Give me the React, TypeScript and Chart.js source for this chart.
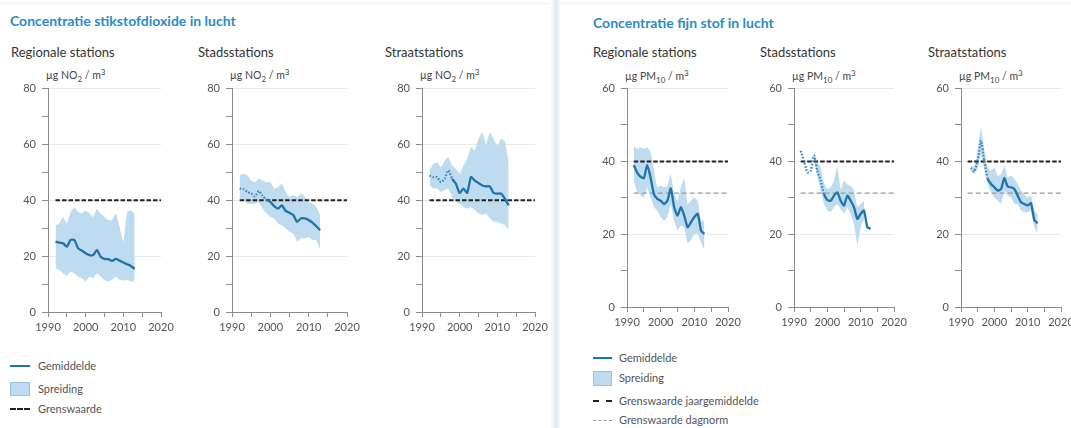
import React, { useEffect, useRef } from 'react';
import { Chart, registerables } from 'chart.js';

Chart.register(...registerables);

// ---------- data ----------
const no2Years = [1992, 1993, 1994, 1995, 1996, 1997, 1998, 1999, 2000, 2001, 2002, 2003, 2004, 2005, 2006, 2007, 2008, 2009, 2010, 2011, 2012, 2013];

const no2RegMean = [25.2, 24.8, 24.6, 23.4, 25.8, 25.8, 22.8, 22.0, 21.0, 20.4, 20.4, 22.2, 19.8, 19.0, 18.9, 18.3, 19.0, 18.4, 17.7, 17.1, 16.5, 15.4];
const no2RegHigh = [31.0, 31.7, 34.0, 31.7, 35.8, 37.3, 35.8, 35.3, 36.4, 35.3, 34.0, 37.0, 35.3, 34.0, 32.9, 32.9, 35.3, 30.5, 25.2, 35.8, 36.4, 35.0];
const no2RegLow = [15.7, 15.0, 13.9, 12.9, 14.5, 13.9, 12.7, 12.1, 10.9, 12.7, 12.1, 13.9, 12.7, 11.5, 10.9, 11.5, 12.7, 11.5, 11.3, 11.5, 10.9, 10.9];

const no2StadMean = [44.2, 44.0, 43.0, 42.4, 41.4, 43.3, 41.5, 40.3, 39.4, 37.9, 37.0, 38.2, 36.2, 35.5, 34.7, 32.3, 33.5, 33.5, 32.9, 32.0, 30.7, 29.3];
const no2StadHigh = [48.9, 49.5, 48.9, 47.1, 46.5, 47.7, 47.1, 46.5, 46.5, 44.2, 44.7, 45.9, 43.0, 41.2, 41.8, 41.2, 42.4, 41.2, 39.4, 38.8, 37.6, 34.7];
const no2StadLow = [40.6, 40.0, 38.8, 38.8, 38.8, 39.4, 37.0, 35.3, 34.0, 33.5, 31.7, 31.1, 29.9, 28.7, 28.1, 25.2, 26.4, 26.4, 26.9, 25.8, 25.8, 22.2];

const no2StraatMean = [48.9, 48.3, 48.3, 46.5, 47.7, 50.7, 47.7, 45.9, 42.6, 44.2, 42.7, 48.3, 47.1, 46.2, 45.3, 45.0, 45.0, 42.6, 42.4, 42.4, 40.6, 38.2];
const no2StraatHigh = [50.7, 53.0, 53.6, 51.9, 54.2, 55.4, 52.5, 51.3, 49.5, 52.5, 54.8, 59.0, 57.8, 62.0, 64.3, 60.2, 64.3, 62.0, 59.6, 62.0, 61.0, 54.0];
const no2StraatLow = [45.3, 44.2, 44.2, 43.0, 43.6, 44.2, 41.2, 39.4, 38.8, 37.6, 37.0, 37.6, 36.4, 35.3, 34.7, 35.3, 33.5, 32.3, 32.3, 31.7, 31.1, 29.3];

const pmYears = [1992, 1993, 1994, 1995, 1996, 1997, 1998, 1999, 2000, 2001, 2002, 2003, 2004, 2005, 2006, 2007, 2008, 2009, 2010, 2011, 2012, 2013];

const pmRegMean = [39.0, 37.0, 35.8, 35.4, 39.0, 35.6, 31.0, 29.7, 29.2, 28.3, 29.2, 32.6, 27.4, 25.1, 27.4, 25.1, 21.9, 23.3, 24.7, 25.6, 21.0, 20.1];
const pmRegHigh = [44.3, 43.4, 43.8, 43.4, 43.8, 42.5, 37.4, 32.9, 33.3, 32.9, 33.3, 36.5, 31.0, 29.2, 32.9, 35.2, 28.3, 29.2, 30.1, 29.2, 23.7, 23.7];
const pmRegLow = [34.7, 31.5, 30.6, 30.1, 32.9, 30.1, 27.4, 26.5, 24.7, 23.7, 24.7, 28.3, 23.7, 21.0, 22.4, 21.9, 17.4, 18.3, 20.1, 20.1, 17.8, 15.5];

const pmStadMean = [42.9, 40.2, 37.0, 37.4, 41.6, 37.4, 34.7, 31.0, 29.4, 29.2, 30.6, 31.5, 29.2, 27.9, 30.6, 29.2, 27.4, 24.2, 25.6, 26.5, 21.9, 21.5];
const pmStadSpreadYears = [1996, 1997, 1998, 1999, 2000, 2001, 2002, 2003, 2004, 2005, 2006, 2007, 2008, 2009, 2010, 2011];
const pmStadHigh = [42.9, 39.7, 38.4, 34.2, 32.4, 32.9, 34.7, 38.4, 32.4, 34.7, 33.8, 33.3, 32.0, 27.4, 28.3, 29.2];
const pmStadLow = [40.6, 36.0, 32.0, 28.3, 26.5, 26.0, 27.4, 28.3, 26.9, 25.6, 27.4, 25.6, 22.8, 16.9, 21.9, 24.2];

const pmStraatYears = [1993, 1994, 1995, 1996, 1997, 1998, 1999, 2000, 2001, 2002, 2003, 2004, 2005, 2006, 2007, 2008, 2009, 2010, 2011, 2012, 2013];
const pmStraatMean = [38.2, 37.2, 40.2, 45.7, 40.2, 35.2, 33.8, 32.9, 32.0, 32.4, 35.4, 33.1, 32.9, 32.4, 30.6, 28.8, 28.3, 27.9, 28.5, 23.9, 23.0];
const pmStraatHigh = [38.8, 38.4, 42.9, 49.3, 42.9, 38.4, 37.4, 38.4, 36.1, 36.5, 38.8, 35.6, 36.1, 35.2, 33.8, 32.0, 31.0, 30.1, 30.6, 26.5, 25.6];
const pmStraatLow = [37.4, 36.5, 38.4, 42.0, 37.9, 33.8, 31.5, 30.1, 29.2, 28.3, 32.0, 30.6, 30.1, 28.3, 28.3, 26.5, 26.0, 26.0, 26.5, 21.9, 20.1];

const limitYears = [1992, 2020];
const no2Limit = 40;
const pmLimitYear = 40;
const pmLimitDay = 31.3;

// ---------- styling ----------
const FONT = 'Lato, "Open Sans", "DejaVu Sans", sans-serif';
const MEAN_COLOR = '#1f74a8';
const DOT_COLOR = '#3a8cc0';
const FILL_COLOR = '#bedbf0';
const AXIS_COLOR = '#8c8c8c';
const GRID_COLOR = '#e8e8e8';
const TICK_TEXT = '#555555';

const YW = 40;
const PT = 12;
const PR = 18;
const XH = 27;

type Spec = {
  left: number;
  top: number;
  w: number;
  h: number;
  yMax: number;
  meanYears: number[];
  mean: number[];
  spreadYears: number[];
  high: number[];
  low: number[];
  dotEnd: number | null;
  limits: { value: number; color: string; width: number; dash: number[] }[];
};

const pts = (xs: number[], ys: number[]) => xs.map((x, i) => ({ x, y: ys[i] }));

function SmallChart({ spec }: { spec: Spec }) {
  const ref = useRef<HTMLCanvasElement>(null);
  const cw = spec.w + YW + PR;
  const ch = spec.h + PT + XH;
  useEffect(() => {
    if (!ref.current) return;
    const datasets: any[] = [
      {
        data: pts(spec.spreadYears, spec.low),
        borderWidth: 0,
        pointRadius: 0,
        fill: false,
        order: 20,
      },
      {
        data: pts(spec.spreadYears, spec.high),
        borderWidth: 0,
        pointRadius: 0,
        backgroundColor: FILL_COLOR,
        fill: '-1',
        tension: 0.15,
        order: 19,
      },
    ];
    spec.limits.forEach((l, i) => {
      datasets.push({
        data: pts(limitYears, [l.value, l.value]),
        borderColor: l.color,
        borderWidth: l.width,
        borderDash: l.dash,
        pointRadius: 0,
        fill: false,
        order: 5 + i,
      });
    });
    const dotEnd = spec.dotEnd;
    datasets.push({
      data: pts(spec.meanYears, spec.mean),
      borderColor: MEAN_COLOR,
      borderWidth: 2.3,
      pointRadius: 0,
      fill: false,
      tension: 0.2,
      order: 0,
      segment: {
        borderDash: (c: any) => (dotEnd !== null && c.p1.parsed.x <= dotEnd ? [1.6, 1.6] : undefined),
        borderColor: (c: any) => (dotEnd !== null && c.p1.parsed.x <= dotEnd ? DOT_COLOR : undefined),
      },
    });

    const chart = new Chart(ref.current, {
      type: 'line',
      data: { datasets },
      options: {
        responsive: false,
        animation: false,
        events: [],
        layout: { padding: { top: PT, right: PR, left: 0, bottom: 0 } },
        plugins: { legend: { display: false }, tooltip: { enabled: false } },
        scales: {
          x: {
            type: 'linear',
            min: 1990,
            max: 2020,
            afterFit: (s: any) => {
              s.height = XH;
            },
            border: { display: true, color: AXIS_COLOR, width: 1 },
            grid: {
              drawOnChartArea: false,
              color: AXIS_COLOR,
              tickColor: AXIS_COLOR,
              tickLength: 5,
            },
            ticks: {
              stepSize: 5,
              autoSkip: false,
              maxRotation: 0,
              padding: 4,
              color: TICK_TEXT,
              font: { family: FONT, size: 11 },
              callback: (v: any) => (Number(v) % 10 === 0 ? String(v) : ''),
            },
          },
          y: {
            min: 0,
            max: spec.yMax,
            afterFit: (s: any) => {
              s.width = YW;
            },
            border: { display: true, color: AXIS_COLOR, width: 1 },
            grid: {
              color: (c: any) =>
                c.tick && c.tick.value % 20 === 0 && c.tick.value !== 0 ? GRID_COLOR : 'rgba(0,0,0,0)',
              tickColor: AXIS_COLOR,
              tickLength: 6,
            },
            ticks: {
              stepSize: 10,
              autoSkip: false,
              padding: 6,
              color: TICK_TEXT,
              font: { family: FONT, size: 11 },
              callback: (v: any) => (Number(v) % 20 === 0 ? String(v) : ''),
            },
          },
        },
      },
    });
    return () => chart.destroy();
  }, []);
  return (
    <canvas
      ref={ref}
      width={cw}
      height={ch}
      style={{ position: 'absolute', left: spec.left - YW, top: spec.top - PT, width: cw, height: ch }}
    />
  );
}

const no2Lim = [{ value: no2Limit, color: '#222222', width: 2, dash: [4.5, 2] }];
const pmLim = [
  { value: pmLimitYear, color: '#222222', width: 2, dash: [4.5, 2] },
  { value: pmLimitDay, color: '#9a9a9a', width: 1.3, dash: [5, 3] },
];

const specs: Spec[] = [
  { left: 48, top: 88, w: 113, h: 224, yMax: 80, meanYears: no2Years, mean: no2RegMean, spreadYears: no2Years, high: no2RegHigh, low: no2RegLow, dotEnd: null, limits: no2Lim },
  { left: 232, top: 88, w: 115, h: 224, yMax: 80, meanYears: no2Years, mean: no2StadMean, spreadYears: no2Years, high: no2StadHigh, low: no2StadLow, dotEnd: 1999, limits: no2Lim },
  { left: 422, top: 88, w: 113, h: 224, yMax: 80, meanYears: no2Years, mean: no2StraatMean, spreadYears: no2Years, high: no2StraatHigh, low: no2StraatLow, dotEnd: 1998, limits: no2Lim },
  { left: 627, top: 88, w: 101, h: 219, yMax: 60, meanYears: pmYears, mean: pmRegMean, spreadYears: pmYears, high: pmRegHigh, low: pmRegLow, dotEnd: null, limits: pmLim },
  { left: 794, top: 88, w: 100, h: 219, yMax: 60, meanYears: pmYears, mean: pmStadMean, spreadYears: pmStadSpreadYears, high: pmStadHigh, low: pmStadLow, dotEnd: 1999, limits: pmLim },
  { left: 961, top: 88, w: 100, h: 219, yMax: 60, meanYears: pmStraatYears, mean: pmStraatMean, spreadYears: pmStraatYears, high: pmStraatHigh, low: pmStraatLow, dotEnd: 1998, limits: pmLim },
];

const abs = (left: number, top: number, extra: React.CSSProperties = {}): React.CSSProperties => ({
  position: 'absolute',
  left,
  top,
  whiteSpace: 'nowrap',
  ...extra,
});

const titleStyle: React.CSSProperties = { fontSize: 14, fontWeight: 700, color: '#2a8bc4', lineHeight: '16px' };
const subStyle: React.CSSProperties = { fontSize: 13, color: '#333333', lineHeight: '16px' };
const unitStyle: React.CSSProperties = { fontSize: 10.5, color: '#444444', lineHeight: '14px' };
const legStyle: React.CSSProperties = { fontSize: 11, color: '#555555', lineHeight: '14px' };

function Unit({ left, top, sub }: { left: number; top: number; sub: string }) {
  return (
    <div style={abs(left, top, unitStyle)}>
      µg {sub === '2' ? 'NO' : 'PM'}
      <sub style={{ fontSize: 8, verticalAlign: -3 }}>{sub}</sub> / m<sup style={{ fontSize: 8, verticalAlign: 4 }}>3</sup>
    </div>
  );
}

export default function App() {
  return (
    <div
      style={{
        position: 'absolute',
        left: 0,
        top: 0,
        width: 1071,
        height: 428,
        background: '#ffffff',
        overflow: 'hidden',
        fontFamily: FONT,
      }}
    >
      <div style={abs(0, 3, { width: 551, height: 1, background: '#eef1f4' })} />
      <div style={abs(559, 3, { width: 512, height: 1, background: '#eef1f4' })} />
      <div
        style={abs(550, 0, {
          width: 10,
          height: 428,
          background: 'linear-gradient(to right, #ffffff, #e6ecf3 45%, #e0e8f0 60%, #f5f7fa)',
        })}
      />

      <div style={abs(10, 13, titleStyle)}>Concentratie stikstofdioxide in lucht</div>
      <div style={abs(593, 15, titleStyle)}>Concentratie fijn stof in lucht</div>

      <div style={abs(11, 44, subStyle)}>Regionale stations</div>
      <div style={abs(198, 44, subStyle)}>Stadsstations</div>
      <div style={abs(385, 44, subStyle)}>Straatstations</div>
      <div style={abs(593, 44, subStyle)}>Regionale stations</div>
      <div style={abs(760, 44, subStyle)}>Stadsstations</div>
      <div style={abs(928, 44, subStyle)}>Straatstations</div>

      <Unit left={46} top={65} sub="2" />
      <Unit left={230} top={65} sub="2" />
      <Unit left={420} top={65} sub="2" />
      <Unit left={625} top={66} sub="10" />
      <Unit left={792} top={66} sub="10" />
      <Unit left={959} top={66} sub="10" />

      {specs.map((s, i) => (
        <SmallChart key={i} spec={s} />
      ))}

      {/* left legend */}
      <div style={abs(10, 365, { width: 20, height: 2, background: MEAN_COLOR })} />
      <div style={abs(38, 359, legStyle)}>Gemiddelde</div>
      <div style={abs(10, 382, { width: 18, height: 12, background: FILL_COLOR, border: '1px solid #9cc2de' })} />
      <div style={abs(38, 382, legStyle)}>Spreiding</div>
      <div style={abs(10, 408, { width: 20, height: 0, borderTop: '2px dashed #222222' })} />
      <div style={abs(38, 402, legStyle)}>Grenswaarde</div>

      {/* right legend */}
      <div style={abs(593, 357, { width: 19, height: 2, background: MEAN_COLOR })} />
      <div style={abs(619, 351, legStyle)}>Gemiddelde</div>
      <div style={abs(593, 371, { width: 17, height: 13, background: FILL_COLOR, border: '1px solid #9cc2de' })} />
      <div style={abs(619, 371, legStyle)}>Spreiding</div>
      <div style={abs(593, 400, { width: 19, height: 0, borderTop: '2px dashed #222222' })} />
      <div style={abs(619, 394, legStyle)}>Grenswaarde jaargemiddelde</div>
      <div style={abs(593, 420, { width: 19, height: 0, borderTop: '1px dashed #999999' })} />
      <div style={abs(619, 413, legStyle)}>Grenswaarde dagnorm</div>
    </div>
  );
}
